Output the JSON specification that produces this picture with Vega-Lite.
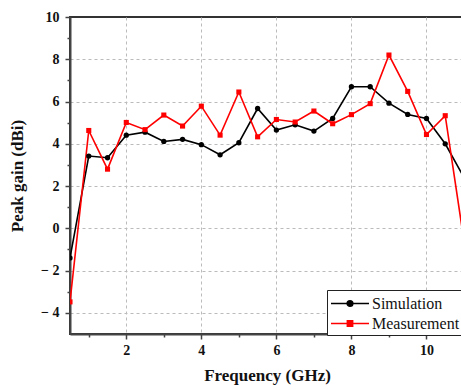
{
  "$schema": "https://vega.github.io/schema/vega-lite/v6.json",
  "width": 394,
  "height": 317,
  "autosize": {"type": "none"},
  "padding": {"left": 70, "top": 17, "right": 0, "bottom": 56},
  "background": "white",
  "config": {
    "view": {"stroke": "#333333", "strokeWidth": 2},
    "font": "Liberation Serif"
  },
  "data": {
    "values": [
      {"f": 0.5, "gain": -1.4, "series": "Simulation"},
      {"f": 1.0, "gain": 3.42, "series": "Simulation"},
      {"f": 1.5, "gain": 3.34, "series": "Simulation"},
      {"f": 2.0, "gain": 4.41, "series": "Simulation"},
      {"f": 2.5, "gain": 4.55, "series": "Simulation"},
      {"f": 3.0, "gain": 4.11, "series": "Simulation"},
      {"f": 3.5, "gain": 4.21, "series": "Simulation"},
      {"f": 4.0, "gain": 3.96, "series": "Simulation"},
      {"f": 4.5, "gain": 3.48, "series": "Simulation"},
      {"f": 5.0, "gain": 4.05, "series": "Simulation"},
      {"f": 5.5, "gain": 5.67, "series": "Simulation"},
      {"f": 6.0, "gain": 4.65, "series": "Simulation"},
      {"f": 6.5, "gain": 4.9, "series": "Simulation"},
      {"f": 7.0, "gain": 4.6, "series": "Simulation"},
      {"f": 7.5, "gain": 5.2, "series": "Simulation"},
      {"f": 8.0, "gain": 6.7, "series": "Simulation"},
      {"f": 8.5, "gain": 6.7, "series": "Simulation"},
      {"f": 9.0, "gain": 5.92, "series": "Simulation"},
      {"f": 9.5, "gain": 5.39, "series": "Simulation"},
      {"f": 10.0, "gain": 5.2, "series": "Simulation"},
      {"f": 10.5, "gain": 4.0, "series": "Simulation"},
      {"f": 11.0, "gain": 2.4, "series": "Simulation"},
      {"f": 0.5, "gain": -3.48, "series": "Measurement"},
      {"f": 1.0, "gain": 4.63, "series": "Measurement"},
      {"f": 1.5, "gain": 2.8, "series": "Measurement"},
      {"f": 2.0, "gain": 5.01, "series": "Measurement"},
      {"f": 2.5, "gain": 4.67, "series": "Measurement"},
      {"f": 3.0, "gain": 5.36, "series": "Measurement"},
      {"f": 3.5, "gain": 4.84, "series": "Measurement"},
      {"f": 4.0, "gain": 5.78, "series": "Measurement"},
      {"f": 4.5, "gain": 4.41, "series": "Measurement"},
      {"f": 5.0, "gain": 6.45, "series": "Measurement"},
      {"f": 5.5, "gain": 4.33, "series": "Measurement"},
      {"f": 6.0, "gain": 5.15, "series": "Measurement"},
      {"f": 6.5, "gain": 5.03, "series": "Measurement"},
      {"f": 7.0, "gain": 5.55, "series": "Measurement"},
      {"f": 7.5, "gain": 4.95, "series": "Measurement"},
      {"f": 8.0, "gain": 5.38, "series": "Measurement"},
      {"f": 8.5, "gain": 5.9, "series": "Measurement"},
      {"f": 9.0, "gain": 8.2, "series": "Measurement"},
      {"f": 9.5, "gain": 6.48, "series": "Measurement"},
      {"f": 10.0, "gain": 4.44, "series": "Measurement"},
      {"f": 10.5, "gain": 5.33, "series": "Measurement"},
      {"f": 11.0, "gain": -0.6, "series": "Measurement"}
    ]
  },
  "encoding": {
    "x": {
      "field": "f", "type": "quantitative",
      "scale": {"domain": [0.5, 11], "nice": false, "zero": false},
      "axis": {
        "title": "Frequency (GHz)",
        "values": [1, 2, 3, 4, 5, 6, 7, 8, 9, 10],
        "labelExpr": "datum.value % 2 == 0 ? datum.label : ''",
        "labelFont": "Liberation Serif", "labelFontWeight": 700, "labelFontSize": 14, "labelColor": "#111",
        "labelPadding": 4,
        "titleFont": "Liberation Serif", "titleFontWeight": 700, "titleFontSize": 17, "titleColor": "#111",
        "titlePadding": 10,
        "domainColor": "#444", "domainWidth": 2,
        "tickColor": "#444", "tickWidth": 1.5,
        "tickSize": {"condition": {"test": "datum.value % 2 != 0", "value": 3}, "value": 5},
        "grid": true, "gridColor": "#bbbbbb", "gridDash": [3, 3], "gridWidth": 1,
        "gridOpacity": {"condition": {"test": "datum.value % 2 != 0", "value": 0}, "value": 1}
      }
    },
    "y": {
      "field": "gain", "type": "quantitative",
      "scale": {"domain": [-5, 10], "nice": false, "zero": false},
      "axis": {
        "title": "Peak gain (dBi)",
        "values": [-4, -3, -2, -1, 0, 1, 2, 3, 4, 5, 6, 7, 8, 9, 10],
        "labelExpr": "datum.value % 2 != 0 ? '' : (datum.value < 0 ? '\u2212 ' + abs(datum.value) : datum.label)",
        "labelFont": "Liberation Serif", "labelFontWeight": 700, "labelFontSize": 14, "labelColor": "#111",
        "labelPadding": 6,
        "titleFont": "Liberation Serif", "titleFontWeight": 700, "titleFontSize": 17, "titleColor": "#111",
        "titlePadding": 14,
        "domainColor": "#444", "domainWidth": 2,
        "tickColor": "#444", "tickWidth": 1.5,
        "tickSize": {"condition": {"test": "datum.value % 2 != 0", "value": 3}, "value": 5},
        "grid": true, "gridColor": "#bbbbbb", "gridDash": [3, 3], "gridWidth": 1,
        "gridOpacity": {"condition": {"test": "datum.value % 2 != 0 || datum.value == 10", "value": 0}, "value": 1}
      }
    },
    "color": {
      "field": "series", "type": "nominal",
      "scale": {"domain": ["Simulation", "Measurement"], "range": ["#000000", "#ff0000"]},
      "legend": {
        "title": null,
        "orient": "none",
        "legendX": 257,
        "legendY": 273,
        "direction": "vertical",
        "fillColor": "white",
        "strokeColor": "#222",
        "padding": 3,
        "rowPadding": 1,
        "symbolSize": 361,
        "symbolStrokeWidth": 1.5,
        "labelFont": "Liberation Serif",
        "labelFontSize": 16,
        "labelColor": "#111",
        "labelOffset": 21,
        "labelLimit": 200,
        "encode": {
          "symbols": {
            "update": {
              "shape": {"signal": "datum.value == 'Simulation' ? 'M-1,0H3M1.3,0A0.3,0.3,0,1,1,0.7,0A0.3,0.3,0,1,1,1.3,0Z' : 'M-1,0H3M0.72,-0.28H1.28V0.28H0.72Z'"},
              "fill": {"scale": "color", "field": "value"},
              "fillOpacity": {"value": 1}
            }
          }
        }
      }
    }
  },
  "layer": [
    {
      "mark": {"type": "line", "strokeWidth": 1.6, "clip": true},
      "encoding": {}
    },
    {
      "transform": [{"filter": "datum.series == 'Simulation'"}],
      "mark": {"type": "point", "shape": "circle", "filled": true, "opacity": 1, "clip": true, "size": 28},
      "encoding": {}
    },
    {
      "transform": [{"filter": "datum.series == 'Measurement'"}],
      "mark": {"type": "point", "shape": "square", "filled": true, "opacity": 1, "clip": true, "size": 26},
      "encoding": {}
    }
  ]
}
